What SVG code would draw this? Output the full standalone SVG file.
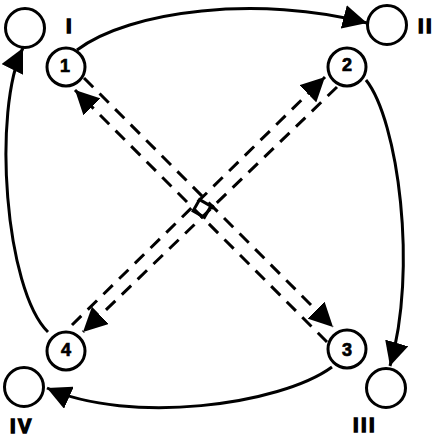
<svg xmlns="http://www.w3.org/2000/svg" width="435" height="436" viewBox="0 0 435 436">
<style>
.c{fill:#fff;stroke:#000;stroke-width:3}
.e{fill:none;stroke:#000;stroke-width:3}
.d{fill:none;stroke:#000;stroke-width:3;stroke-dasharray:13 9}
.n{font-family:"Liberation Sans",Arial,sans-serif;font-weight:bold;font-size:18px;text-anchor:middle;fill:#000;stroke:#000;stroke-width:0.7}
.r{font-family:"Liberation Sans",Arial,sans-serif;font-weight:bold;font-size:20px;fill:#000;stroke:#000;stroke-width:1.4;letter-spacing:2.5px}
</style>
<defs>
<marker id="a" viewBox="0 0 24 24" refX="24" refY="12" markerWidth="24" markerHeight="24" markerUnits="userSpaceOnUse" orient="auto">
<path d="M0,0 L24,12 L0,24 z" fill="#000"/>
</marker>
</defs>
<g id="connectors">
<path class="e" d="M77,50 C130,10 260,-5 367,23" marker-end="url(#a)"/>
<path class="e" d="M366,80 C398,120 418,270 390,366" marker-end="url(#a)"/>
<path class="e" d="M332,367 C280,405 130,425 47,388" marker-end="url(#a)"/>
<path class="e" d="M48,332 C5,290 -8,110 23,48" marker-end="url(#a)"/>
<path class="d" d="M84,78 L333,327" marker-end="url(#a)"/>
<path class="d" d="M327,342 L75,90" marker-end="url(#a)"/>
<path class="d" d="M72,325 L325,77" marker-end="url(#a)"/>
<path class="d" d="M337,87 L83,332" marker-end="url(#a)"/>
</g>
<g id="center-mark">
<polygon class="e" points="199.6,199.6 210.9,206.1 204.4,217.4 193.1,210.9"/>
<circle cx="212" cy="207" r="2.5" fill="#000"/>
</g>
<g id="node-I"><circle class="c" cx="25" cy="28" r="19.5"/><text class="r" x="66" y="33">I</text></g>
<g id="node-II"><circle class="c" cx="387" cy="25" r="19.5"/><text class="r" x="418" y="33">II</text></g>
<g id="node-III"><circle class="c" cx="386" cy="388" r="19.5"/><text class="r" x="353" y="432">III</text></g>
<g id="node-IV"><circle class="c" cx="24" cy="387" r="19.5"/><text class="r" x="10" y="433">IV</text></g>
<g id="node-1"><circle class="c" cx="66" cy="67" r="19"/><text class="n" x="65" y="72">1</text></g>
<g id="node-2"><circle class="c" cx="347" cy="67" r="19"/><text class="n" x="347" y="71">2</text></g>
<g id="node-3"><circle class="c" cx="347" cy="349" r="19"/><text class="n" x="347" y="356">3</text></g>
<g id="node-4"><circle class="c" cx="66" cy="351" r="19"/><text class="n" x="66" y="356">4</text></g>
</svg>
